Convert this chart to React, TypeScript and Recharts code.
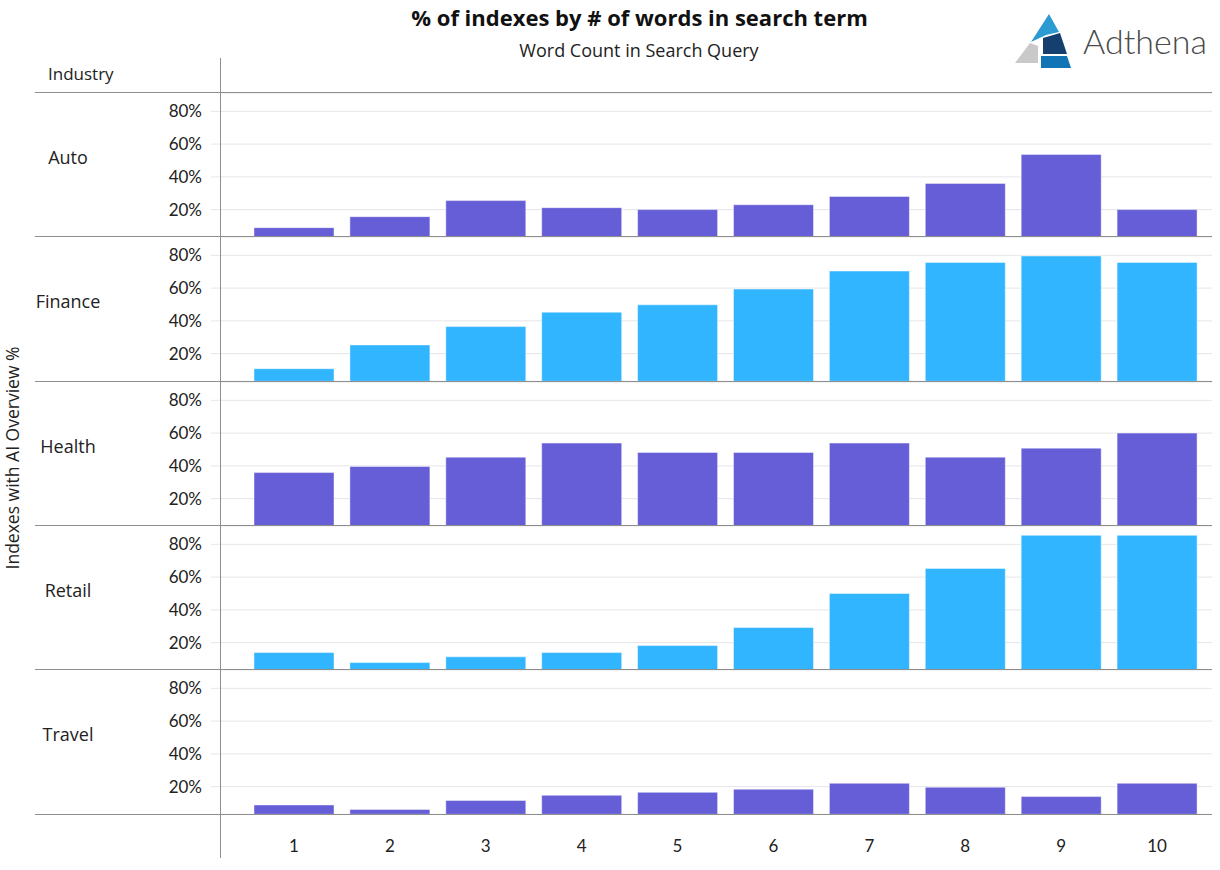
import { Bar, BarChart, CartesianGrid, XAxis, YAxis } from "recharts";

// word count buckets (x axis)
const wordCounts = ["1", "2", "3", "4", "5", "6", "7", "8", "9", "10"];

// share of indexes with an AI overview, per industry
const autoValues = [0.09, 0.157, 0.255, 0.212, 0.2, 0.23, 0.28, 0.36, 0.537, 0.2];
const financeValues = [0.108, 0.253, 0.365, 0.453, 0.498, 0.594, 0.704, 0.757, 0.796, 0.757];
const healthValues = [0.359, 0.396, 0.453, 0.539, 0.482, 0.482, 0.539, 0.453, 0.508, 0.6];
const retailValues = [0.139, 0.078, 0.113, 0.139, 0.182, 0.292, 0.5, 0.653, 0.855, 0.855];
const travelValues = [0.088, 0.061, 0.115, 0.147, 0.165, 0.184, 0.22, 0.196, 0.139, 0.22];

const industries = ["Auto", "Finance", "Health", "Retail", "Travel"];
const seriesByIndustry = [autoValues, financeValues, healthValues, retailValues, travelValues];

const yTicks = [0.2, 0.4, 0.6, 0.8];

const PURPLE = "#665ED6";
const BLUE = "#32B5FF";
const colors = [PURPLE, BLUE, PURPLE, BLUE, PURPLE];

const FONT = "'Open Sans', Lato, sans-serif";
const NUM_FONT = "Lato, 'Open Sans', sans-serif";
const PANEL_TOP = 93;
const PANEL_H = 144.3;
const X_AXIS_H = 42;

function WordTick(props: any) {
  const { x, y, payload } = props;
  return (
    <text x={x} y={y + 38} textAnchor="middle" fontSize={17} fill="#222" fontFamily={NUM_FONT}>
      {payload.value}
    </text>
  );
}

function Panel({ idx }: { idx: number }) {
  const values = seriesByIndustry[idx];
  const data = wordCounts.map((w, i) => ({ words: w, value: values[i] }));
  const last = idx === industries.length - 1;
  return (
    <div style={{ position: "absolute", left: 0, top: PANEL_TOP + idx * PANEL_H }}>
      <BarChart
        width={1220}
        height={PANEL_H + (last ? X_AXIS_H : 0)}
        data={data}
        margin={{ top: 0, right: 8, bottom: 0, left: 0 }}
      >
        <CartesianGrid vertical={false} stroke="#e6e6ea" />
        <XAxis
          dataKey="words"
          hide={!last}
          height={last ? X_AXIS_H : 0}
          padding={{ left: 26, right: 7 }}
          axisLine={false}
          tickLine={false}
          tickSize={0}
          tickMargin={0}
          tick={<WordTick />}
        />
        <YAxis
          width={220}
          domain={[0.031, 0.912]}
          allowDataOverflow
          ticks={yTicks}
          axisLine={false}
          tickSize={9}
          tickMargin={9}
          tickLine={{ stroke: "#e6e6ea" }}
          tickFormatter={(v: number) => `${Math.round(v * 100)}%`}
          tick={{ fontSize: 17, fill: "#222", fontFamily: NUM_FONT }}
        />
        <Bar
          dataKey="value"
          fill={colors[idx]}
          stroke="#ffffff"
          strokeOpacity={0.45}
          barSize={80}
          isAnimationActive={false}
        />
      </BarChart>
    </div>
  );
}

function Logo() {
  return (
    <svg width={220} height={80} style={{ position: "absolute", left: 1000, top: 0 }}>
      <g transform="translate(-1000,0)">
        <polygon points="1049,14 1059,32 1046,35 1031,42" fill="#2C9BD2" />
        <polygon points="1030,43 1038,46 1038,63 1015,63" fill="#C9C9C9" />
        <polygon points="1043,38 1060,33 1067,54 1043,54" fill="#153F6E" />
        <polygon points="1041,56 1067,56 1071,68 1041,68" fill="#1174B5" />
      </g>
      <text x={83} y={54} fontSize={34} fill="#4a4a4a" fontFamily={NUM_FONT} fontWeight={300}>
        Adthena
      </text>
    </svg>
  );
}

export default function App() {
  const lineColor = "#8e8e8e";
  return (
    <div
      style={{
        position: "absolute",
        left: 0,
        top: 0,
        width: 1220,
        height: 870,
        background: "#fff",
        fontFamily: FONT,
        color: "#222",
        overflow: "hidden",
      }}
    >
      <div
        style={{
          position: "absolute",
          top: 2,
          left: 0,
          width: 1279,
          textAlign: "center",
          fontSize: 22,
          fontWeight: 700,
          color: "#111",
        }}
      >
        % of indexes by # of words in search term
      </div>
      <div style={{ position: "absolute", top: 38, left: 0, width: 1278, textAlign: "center", fontSize: 18 }}>
        Word Count in Search Query
      </div>
      <Logo />
      <div style={{ position: "absolute", top: 62, left: 48, fontSize: 17 }}>Industry</div>

      {industries.map((_, i) => (
        <Panel key={i} idx={i} />
      ))}

      {/* table rules */}
      {[0, 1, 2, 3, 4, 5].map((i) => (
        <div
          key={i}
          style={{
            position: "absolute",
            left: 35,
            top: Math.round(PANEL_TOP + i * PANEL_H) - 1,
            width: 1177,
            height: 1,
            background: lineColor,
          }}
        />
      ))}
      <div style={{ position: "absolute", left: 220, top: 58, width: 1, height: 800, background: lineColor }} />

      {industries.map((name, i) => (
        <div
          key={name}
          style={{
            position: "absolute",
            left: 18,
            width: 100,
            textAlign: "center",
            top: PANEL_TOP + i * PANEL_H + 53,
            fontSize: 18,
            lineHeight: "22px",
          }}
        >
          {name}
        </div>
      ))}

      <div
        style={{
          position: "absolute",
          left: 12,
          top: 458,
          transform: "translate(-50%, -50%) rotate(-90deg)",
          whiteSpace: "nowrap",
          fontSize: 17.5,
        }}
      >
        Indexes with AI Overview %
      </div>
    </div>
  );
}
